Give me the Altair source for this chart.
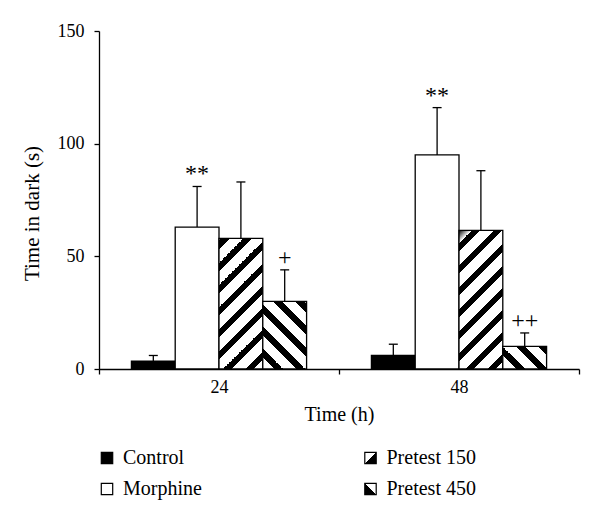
import altair as alt
import pandas as pd

# ---------------- data ----------------
times = ["24", "48"]
groups = ["Control", "Morphine", "Pretest 150", "Pretest 450"]
mean_24 = [3.5, 63, 58, 30]
mean_48 = [6, 95, 61.5, 10]
err_24 = [2.5, 18, 25, 14]
err_48 = [5, 21, 26.5, 6]
sig_24 = ["", "**", "", "+"]
sig_48 = ["", "**", "", "++"]
legend_col = [0, 0, 1, 1]
legend_row = [0, 1, 0, 1]

# ---------------- layout / style ----------------
W, H = 480, 338
Y_MAX = 150
PAD_OUTER = 0.74
FONT = "Liberation Serif"
LABEL_FS = 18
TITLE_FS = 20
LEGEND_FS = 20
STRIPE_PERIOD = 22.0
STRIPE_BLACK = 0.38

rows = []
for t, means, errs, sigs in [("24", mean_24, err_24, sig_24), ("48", mean_48, err_48, sig_48)]:
    for g, m, e, s in zip(groups, means, errs, sigs):
        rows.append(dict(time=t, group=g, mean=m, top=m + e, sig=s))
df = pd.DataFrame(rows)

band = W / len(times)
bar_w = band / (len(groups) + 2 * PAD_OUTER)


def stripe_stops(total, phase):
    """black intervals at [n*P - phase, n*P - phase + bP) in local coordinate 0..total"""
    P = STRIPE_PERIOD
    b = STRIPE_BLACK * P
    stops = []
    start = -(phase % P)
    segs = []
    n = 0
    while start + n * P < total:
        s0 = start + n * P
        s1 = s0 + b
        segs.append((max(s0, 0.0), min(s1, total)))
        n += 1
    first_black = bool(segs) and segs[0][0] <= 0.0
    stops.append(alt.GradientStop(offset=0.0, color="black" if first_black else "white"))
    for s0, s1 in segs:
        if s1 <= 0:
            continue
        o0 = max(s0, 0.0) / total
        o1 = min(s1, total) / total
        if s0 > 0:
            stops.append(alt.GradientStop(offset=o0, color="white"))
            stops.append(alt.GradientStop(offset=o0, color="black"))
        stops.append(alt.GradientStop(offset=o1, color="black"))
        if s1 < total:
            stops.append(alt.GradientStop(offset=o1, color="white"))
    stops.append(alt.GradientStop(offset=1.0, color=stops[-1].color))
    return stops


def hatch(value, ti, gi, direction):
    w = bar_w
    h = value / Y_MAX * H
    X0 = ti * band + PAD_OUTER * bar_w + gi * bar_w
    Y0 = H - h
    k = (w + h) / (w * w + h * h)
    total = w + h
    if direction == "/":
        x1, y1, x2, y2 = 0.0, 0.0, k * w, k * h
        phase = X0 + Y0
    else:
        x1, y1, x2, y2 = 1.0, 0.0, 1.0 - k * w, k * h
        phase = Y0 - X0 - w
    return alt.LinearGradient(
        gradient="linear", stops=stripe_stops(total, phase),
        x1=x1, y1=y1, x2=x2, y2=y2,
    )


x_enc = alt.X(
    "time:N",
    scale=alt.Scale(domain=times, paddingInner=0, paddingOuter=0),
    axis=alt.Axis(title="Time (h)", labelAngle=0, tickBand="extent", tickSize=5,
                  labelPadding=4, titlePadding=8),
)
xo_enc = alt.XOffset("group:N", scale=alt.Scale(domain=groups, paddingInner=0, paddingOuter=PAD_OUTER))
y_scale = alt.Scale(domain=[0, Y_MAX], nice=False, zero=True)
y_axis = alt.Axis(title="Time in dark (s)", values=[0, 50, 100, 150], tickSize=5,
                  labelPadding=10, titlePadding=15, grid=False, titleFontSize=21,
                  titleY=H / 2 + 13)

bar_layers = []
for gi, g in enumerate(groups):
    for ti, t in enumerate(times):
        val = df[(df.group == g) & (df.time == t)]["mean"].iloc[0]
        if g == "Control":
            fill = "black"
        elif g == "Morphine":
            fill = "white"
        elif g == "Pretest 150":
            fill = hatch(val, ti, gi, "/")
        else:
            fill = hatch(val, ti, gi, "\\")
        bar_layers.append(
            alt.Chart().mark_bar(fill=fill, stroke="black", strokeWidth=1.3, opacity=1)
            .encode(x=x_enc, xOffset=xo_enc,
                    y=alt.Y("mean:Q", scale=y_scale, axis=y_axis))
            .transform_filter((alt.datum.group == g) & (alt.datum.time == t))
        )

err_rule = alt.Chart().mark_rule(color="black", strokeWidth=1.3).encode(
    x=x_enc, xOffset=xo_enc, y=alt.Y("mean:Q", scale=y_scale, axis=y_axis), y2="top:Q"
)
err_cap = alt.Chart().mark_tick(color="black", size=9, thickness=1.3, opacity=1, orient="horizontal").encode(
    x=x_enc, xOffset=xo_enc, y=alt.Y("top:Q", scale=y_scale, axis=y_axis)
)
sig_text = alt.Chart().mark_text(font=FONT, fontSize=24, baseline="middle", dy=-12, color="black").encode(
    x=x_enc, xOffset=xo_enc, y=alt.Y("top:Q", scale=y_scale, axis=y_axis), text="sig:N"
).transform_filter(alt.datum.sig != "")

bars = alt.layer(*bar_layers, err_rule, err_cap, sig_text, data=df)

# ---------------- legend ----------------
leg = pd.DataFrame(dict(name=groups, col=legend_col, row=legend_row))
lx = alt.X("col:Q", scale=alt.Scale(domain=[0, 1], range=[8, 271.5]), axis=None)
ly = alt.Y("row:Q", scale=alt.Scale(domain=[0, 1], range=[H + 89, H + 120]), axis=None)

leg_fills = {
    "Control": "black",
    "Morphine": "white",
    "Pretest 150": alt.LinearGradient(gradient="linear", x1=0, y1=0, x2=1, y2=1, stops=[
        alt.GradientStop(offset=0, color="white"), alt.GradientStop(offset=0.5, color="white"),
        alt.GradientStop(offset=0.5, color="black"), alt.GradientStop(offset=1, color="black")]),
    "Pretest 450": alt.LinearGradient(gradient="linear", x1=1, y1=0, x2=0, y2=1, stops=[
        alt.GradientStop(offset=0, color="white"), alt.GradientStop(offset=0.5, color="white"),
        alt.GradientStop(offset=0.5, color="black"), alt.GradientStop(offset=1, color="black")]),
}
leg_layers = []
for g in groups:
    leg_layers.append(
        alt.Chart().mark_square(size=130, fill=leg_fills[g], stroke="black", strokeWidth=1.2,
                                opacity=1, filled=True)
        .encode(x=lx, y=ly).transform_filter(alt.datum.name == g)
    )
leg_text = alt.Chart().mark_text(font=FONT, fontSize=LEGEND_FS, align="left", baseline="middle",
                                 dx=16, color="black").encode(x=lx, y=ly, text="name:N")
legend = alt.layer(*leg_layers, leg_text, data=leg)

chart = (
    alt.layer(bars, legend)
    .resolve_scale(x="independent", y="independent")
    .properties(width=W, height=H, padding={"left": 91, "top": 23, "right": 5, "bottom": 140},
                autosize=alt.AutoSizeParams(type="none"))
    .configure_view(stroke=None)
    .configure_axis(labelFont=FONT, titleFont=FONT, labelFontSize=LABEL_FS, titleFontSize=TITLE_FS,
                    labelColor="black", titleColor="black", titleFontWeight="normal",
                    domainColor="black", tickColor="black", domainWidth=1.3, tickWidth=1.3)
)

chart.save("out.html", embed_options={"renderer": "svg", "actions": False})
